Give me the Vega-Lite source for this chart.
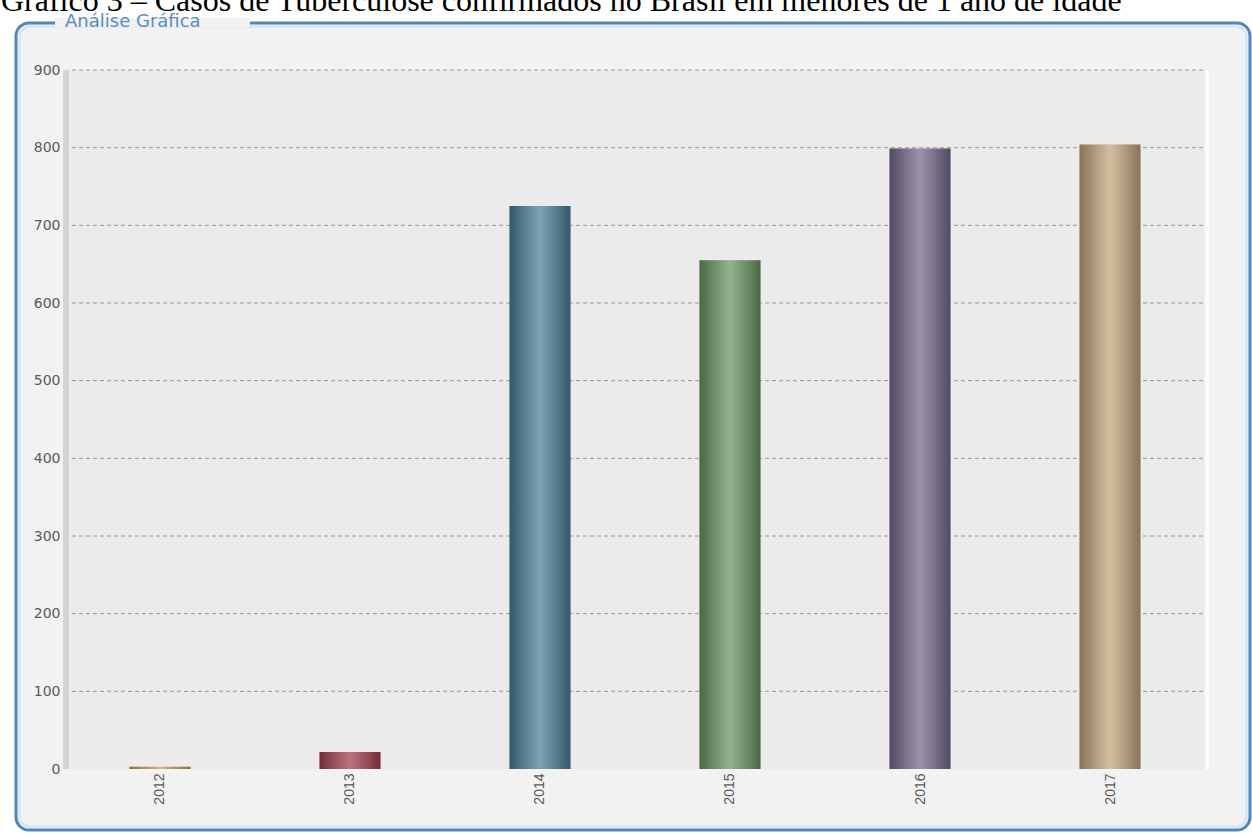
{
  "$schema": "https://vega.github.io/schema/vega-lite/v6.json",
  "autosize": "none",
  "width": 1234,
  "height": 807,
  "padding": {"left": 16, "top": 23, "right": 2, "bottom": 3},
  "background": "#ffffff",
  "config": {
    "view": {"stroke": null, "fill": null}
  },
  "data": {"values": [
    {"ano": 2012, "casos": 3},
    {"ano": 2013, "casos": 22},
    {"ano": 2014, "casos": 725},
    {"ano": 2015, "casos": 655},
    {"ano": 2016, "casos": 799},
    {"ano": 2017, "casos": 804}
  ]},
  "layer": [
    {
      "data": {"values": [{}]},
      "mark": {"type": "rect", "fill": "#f2f2f2", "stroke": "#4f87bd", "strokeWidth": 3, "cornerRadius": 13},
      "encoding": {
        "x": {"datum": 2011.24211, "type": "quantitative",
          "scale": {"domain": [2011.24211, 2017.73684], "nice": false, "zero": false, "padding": 0},
          "axis": {"values": [2012, 2013, 2014, 2015, 2016, 2017], "format": "d", "title": null, "labelAngle": -90, "grid": false, "domain": false, "ticks": false, "tickSize": 0, "labelPadding": 4, "offset": -61, "labelFont": "Liberation Sans", "labelFontSize": 14, "labelColor": "#5a5a5a", "zindex": 1}},
        "x2": {"datum": 2017.73684},
        "y": {"datum": -78.54, "type": "quantitative",
          "scale": {"domain": [-78.54, 960.52], "nice": false, "zero": false, "padding": 0},
          "axis": {"values": [0, 100, 200, 300, 400, 500, 600, 700, 800, 900], "title": null, "grid": false, "domain": false, "ticks": false, "tickSize": 0, "labelPadding": 5, "offset": -49, "labelFont": "DejaVu Sans", "labelFontSize": 14, "labelColor": "#5a5a5a", "zindex": 1}},
        "y2": {"datum": 960.52}
      }
    },
    {
      "data": {"values": [{}]},
      "mark": {"type": "rect", "fill": null, "filled": false, "stroke": "#d3e3f1", "strokeWidth": 2, "cornerRadius": 10},
      "encoding": {
        "x": {"datum": 2011.26053, "type": "quantitative"},
        "x2": {"datum": 2017.71842},
        "y": {"datum": -74.03, "type": "quantitative"},
        "y2": {"datum": 956.01}
      }
    },
    {
      "data": {"values": [{}]},
      "mark": {"type": "rect", "fill": "#ebebeb"},
      "encoding": {
        "x": {"datum": 2011.51579, "type": "quantitative"},
        "x2": {"datum": 2017.5},
        "y": {"datum": 0, "type": "quantitative"},
        "y2": {"datum": 900}
      }
    },
    {
      "data": {"values": [{}]},
      "mark": {"type": "rule", "stroke": "#fbfbfb", "strokeWidth": 4},
      "encoding": {
        "x": {"datum": 2017.51, "type": "quantitative"},
        "y": {"datum": 0, "type": "quantitative"},
        "y2": {"datum": 900}
      }
    },
    {
      "data": {"values": [{}]},
      "mark": {"type": "rule", "stroke": "#d4d4d4", "strokeWidth": 6},
      "encoding": {
        "x": {"datum": 2011.50526, "type": "quantitative"},
        "y": {"datum": 0, "type": "quantitative"},
        "y2": {"datum": 900}
      }
    },
    {
      "data": {"values": [{"v": 100}, {"v": 200}, {"v": 300}, {"v": 400}, {"v": 500}, {"v": 600}, {"v": 700}, {"v": 800}, {"v": 900}]},
      "mark": {"type": "rule", "stroke": "#9a9a9a", "strokeWidth": 1, "strokeDash": [4, 3]},
      "encoding": {
        "x": {"datum": 2011.53684, "type": "quantitative"},
        "x2": {"datum": 2017.5},
        "y": {"field": "v", "type": "quantitative", "title": null}
      }
    },
    {
      "mark": {"type": "bar", "width": 61},
      "encoding": {
        "x": {"field": "ano", "type": "quantitative", "title": null},
        "y": {"field": "casos", "type": "quantitative", "title": null},
        "color": {"field": "ano", "type": "nominal", "legend": null,
          "scale": {"domain": [2012, 2013, 2014, 2015, 2016, 2017], "range": ["#c09a5c", "#a2404f", "#4b7d98", "#6a9460", "#76688c", "#c2a57b"]}}
      }
    },
    {
      "mark": {"type": "bar", "width": 61, "fill": {"gradient": "linear", "x1": 0, "y1": 0, "x2": 1, "y2": 0, "stops": [
        {"offset": 0, "color": "rgba(0,0,0,0.3)"},
        {"offset": 0.5, "color": "rgba(255,255,255,0.28)"},
        {"offset": 1, "color": "rgba(0,0,0,0.3)"}
      ]}},
      "encoding": {
        "x": {"field": "ano", "type": "quantitative", "title": null},
        "y": {"field": "casos", "type": "quantitative", "title": null}
      }
    },
    {
      "data": {"values": [{}]},
      "mark": {"type": "rect", "fill": "#f2f2f2"},
      "encoding": {
        "x": {"datum": 2011.44737, "type": "quantitative"},
        "x2": {"datum": 2012.47368},
        "y": {"datum": 955.37, "type": "quantitative"},
        "y2": {"datum": 966.96}
      }
    },
    {
      "data": {"values": [{}]},
      "mark": {"type": "text", "text": "Análise Gráfica", "align": "left", "baseline": "alphabetic", "font": "DejaVu Sans", "fontSize": 18, "fill": "#5a8cc0"},
      "encoding": {
        "x": {"datum": 2011.5, "type": "quantitative"},
        "y": {"datum": 955.1, "type": "quantitative"}
      }
    },
    {
      "data": {"values": [{}]},
      "mark": {"type": "text", "text": "Gráfico 3 – Casos de Tuberculose confirmados no Brasil em menores de 1 ano de idade", "align": "left", "baseline": "alphabetic", "font": "Liberation Serif", "fontSize": 32, "fill": "#000000"},
      "encoding": {
        "x": {"datum": 2011.16316, "type": "quantitative"},
        "y": {"datum": 975.9, "type": "quantitative"}
      }
    }
  ]
}
